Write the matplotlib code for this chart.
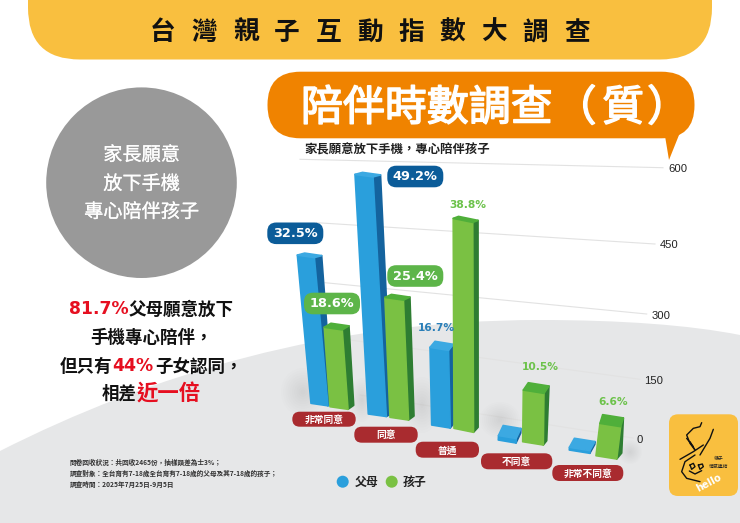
import matplotlib
matplotlib.use('Agg')
import matplotlib.pyplot as plt
import matplotlib.patheffects as pe
from matplotlib.patches import FancyBboxPatch, Circle, Ellipse, PathPatch
from matplotlib.path import Path

plt.rcParams['font.family'] = ['Noto Sans CJK TC', 'DejaVu Sans']

# data
categories = ['非常同意', '同意', '普通', '不同意', '非常不同意']
parent_pct = [32.5, 49.2, 16.7, 1.0, 0.6]
child_pct = [18.6, 25.4, 38.8, 10.5, 6.6]
axis_ticks = ['0', '150', '300', '450', '600']
series_names = ['父母', '孩子']

main_title = '台灣親子互動指數大調查'
sub_title = '陪伴時數調查'
question = '家長願意放下手機，專心陪伴孩子'
circle_lines = ['家長願意', '放下手機', '專心陪伴孩子']
foot_lines = ['問卷回收狀況：共回收2465份，抽樣誤差為士3%；',
              '調查對象：全台育有7-18歲全台育有7-18歲的父母及其7-18歲的孩子；',
              '調查時間：2025年7月25日-9月5日']

# perspective of each bar, in pixels: base x, base y, width x, width y,
# rise x, rise y per percent, top depth x, y, bottom depth x, y
parent_geom = [(311, 403.3, 17, 2.5, -.42, -4.56, 7.3, -2, 4.5, -3),
               (368.3, 414, 18, 2.5, -.27, -4.87, 7.5, -2, 5.5, -3),
               (431.7, 425, 18.5, 3, -.10, -4.65, 5, -6, 4, -5),
               (498.3, 440, 17.7, 3, .2, -4.5, 4.7, -10, 4.7, -10),
               (569.3, 450, 20.5, 3.3, .2, -4.5, 5, -9, 5, -9)]
child_geom = [(330, 406.7, 18, 2.6, -.31, -4.27, 6.7, -4, 5.7, -4),
              (390, 417.3, 18.5, 2.7, -.2, -4.72, 6.5, -3, 5.5, -4),
              (454, 428.3, 19.5, 4, -.02, -5.41, 5.3, -2, 4.6, -5),
              (522.7, 441.7, 20.6, 3.3, .06, -4.92, 5, -7.3, 3.4, -4.3),
              (596, 455.7, 20.7, 3.3, .6, -4.9, 2.7, -8.7, 5, -6)]

YELLOW = '#F9BF3F'
ORANGE = '#F08300'
RED = '#E60F20'
BLUE = ('#2A9FDC', '#14639E', '#3CA9E2')
GREEN = ('#7AC143', '#2E7D32', '#4FAF3A')

fig = plt.figure(figsize=(7.4, 5.23), dpi=100)
ax = fig.add_axes([0, 0, 1, 1])
ax.set_xlim(0, 740)
ax.set_ylim(523, 0)
ax.axis('off')


def rounded(x0, y0, x1, y1, r, color, z=5):
    box = FancyBboxPatch((x0 + r, y0 + r), x1 - x0 - 2 * r, y1 - y0 - 2 * r,
                         boxstyle='round,pad=%f,rounding_size=%f' % (r, r),
                         fc=color, ec='none', zorder=z)
    ax.add_patch(box)


def draw_bar(value, geom, colors, z):
    bx, by, wx, wy, rx, ry, tdx, tdy, bdx, bdy = geom
    tl = (bx + rx * value, by + ry * value)
    tr = (tl[0] + wx, tl[1] + wy)
    br = (bx + wx, by + wy)
    side = [tr, (tr[0] + tdx, tr[1] + tdy), (br[0] + bdx, br[1] + bdy), br]
    top = [tl, tr, (tr[0] + tdx, tr[1] + tdy), (tl[0] + tdx, tl[1] + tdy)]
    front = [tl, tr, br, (bx, by)]
    for pts, c in ((side, colors[1]), (front, colors[0]), (top, colors[2])):
        ax.fill([p[0] for p in pts], [p[1] for p in pts], fc=c, ec=c, lw=1.2,
                joinstyle='round', zorder=z)


def soft_shadow(cx, cy, rx, ry):
    for k in range(10):
        f = 1 - k / 10
        ax.add_patch(Ellipse((cx, cy), 2 * rx * f, 2 * ry * f, fc='#777777',
                             ec='none', alpha=.017, zorder=1.5))


# background shapes
floor = Path([(0, 451), (150, 375), (330, 320), (540, 320), (620, 320), (690, 325),
              (740, 335), (740, 523), (0, 523), (0, 451)],
             [Path.MOVETO, Path.CURVE4, Path.CURVE4, Path.CURVE4, Path.CURVE4, Path.CURVE4,
              Path.CURVE4, Path.LINETO, Path.LINETO, Path.CLOSEPOLY])
ax.add_patch(PathPatch(floor, fc='#E6E7E8', ec='none', zorder=1))
rounded(28, -70, 712, 59.5, 52, YELLOW, 2)

# speech bubble
ax.fill([664, 669, 681, 688], [130, 160, 130, 118], fc=ORANGE, ec='none', zorder=2)
rounded(267.5, 71.7, 694.5, 138.3, 33, ORANGE, 2)

for i, ch in enumerate(main_title):
    ax.text(163 + 41.4 * i, 32.5, ch, fontsize=18.5, fontweight='bold', color='#111111',
            ha='center', va='center', zorder=6)
# regular weight with a thin stroke, the reference sits between regular and bold
thick = [pe.withStroke(linewidth=1.1, foreground='white')]
ax.text(301, 109, sub_title, fontsize=30.2, color='white', ha='left', va='center',
        path_effects=thick, zorder=6)
for ch, x in zip('（質）', (575.5, 623, 668)):
    ax.text(x, 109, ch, fontsize=30.2, color='white', ha='center', va='center',
            path_effects=thick, zorder=6)
ax.text(304, 150, question, fontsize=8.9, fontweight='bold', color='#222222',
        ha='left', va='center', zorder=6)

# left circle
ax.add_patch(Circle((141.5, 182.7), 95.3, fc='#999999', ec='none', zorder=2))
for line, y in zip(circle_lines, (155, 184, 212)):
    ax.text(141.5, y, line, fontsize=13.8, color='white', ha='center', va='center',
            path_effects=[pe.withStroke(linewidth=.15, foreground='white')], zorder=6)


def plain(x, y, s, size=12.6, color='#111111', family=None):
    ax.text(x, y, s, fontsize=size, fontweight='bold', color=color, ha='left', va='center',
            family=family or ['Noto Sans CJK TC', 'DejaVu Sans'], zorder=6)


plain(69, 309, '81.7%', 12.4, RED, 'DejaVu Sans')
plain(129, 310, '父母願意放下')
plain(90, 338, '手機專心陪伴，')
plain(60, 367, '但只有')
plain(112, 366, '44%', 12.4, RED, 'DejaVu Sans')
plain(155, 367, '子女認同，')
plain(102, 394, '相差')
plain(137, 394, '近一倍', 15.4, RED)

for line, y in zip(foot_lines, (462.5, 473, 484)):
    ax.text(70, y, line, fontsize=4.8, fontweight='bold', color='#333333',
            ha='left', va='center', zorder=6)

# grid lines, perspective so each has its own ends
grid_ends = [((360, 395), (633, 438)), ((350, 340), (640, 379.3)), ((325, 282.7), (646.7, 314)),
             ((316.7, 222.7), (655, 244)), ((300, 159.3), (663, 167.7))]
tick_pos = [(640, 440), (654, 380.5), (661, 316), (669, 245.5), (678, 168.5)]
for ends, pos, lab in zip(grid_ends, tick_pos, axis_ticks):
    ax.plot([ends[0][0], ends[1][0]], [ends[0][1], ends[1][1]], color='#E2E2E2', lw=.8, zorder=1.2)
    ax.text(pos[0], pos[1], lab, fontsize=8.1, color='#222222', ha='center', va='center',
            family='Liberation Sans', zorder=6)

for sx, sy, rx, ry in ((303, 392, 22, 24), (422, 405, 18, 28), (500, 420, 20, 18),
                       (362, 400, 12, 22), (630, 452, 12, 12)):
    soft_shadow(sx, sy, rx, ry)

# bars
for i in range(len(categories)):
    draw_bar(parent_pct[i], parent_geom[i], BLUE, 3 + i * .1)
    draw_bar(child_pct[i], child_geom[i], GREEN, 3.05 + i * .1)

# percent labels, pills for the bigger answers
pill_pos = {(0, 0): (295.3, 233.3), (0, 1): (415.3, 176.5), (1, 0): (332, 303.5), (1, 1): (415.3, 276)}
text_pos = {(0, 2): (436.7, 328), (1, 2): (468.3, 205.3), (1, 3): (540.7, 367), (1, 4): (612.7, 401.7)}
for s, values in enumerate((parent_pct, child_pct)):
    for i, v in enumerate(values):
        if (s, i) in pill_pos:
            cx, cy = pill_pos[(s, i)]
            rounded(cx - 28, cy - 10.8, cx + 28, cy + 10.8, 9, '#0B5C99' if s == 0 else '#5DB549', 5)
            ax.text(cx, cy, '%.1f%%' % v, fontsize=9.3, fontweight='bold', color='white',
                    family='DejaVu Sans', ha='center', va='center', zorder=6)
        elif (s, i) in text_pos:
            cx, cy = text_pos[(s, i)]
            ax.text(cx, cy, '%.1f%%' % v, fontsize=7.7, fontweight='bold',
                    color='#2A7FB8' if s == 0 else '#6CC24A',
                    family='DejaVu Sans', ha='center', va='center', zorder=6)

# category pills
pill_boxes = [(292.3, 411.7, 355.7, 426.7), (354.3, 426.7, 417.7, 442.7), (415.7, 441.7, 479, 457.7),
              (481, 453.3, 552.3, 469.3), (552.3, 465, 623.3, 481)]
for cat, box in zip(categories, pill_boxes):
    rounded(box[0], box[1], box[2], box[3], 7.5, '#A92B2F', 5)
    ax.text((box[0] + box[2]) / 2, (box[1] + box[3]) / 2 + .7, cat, fontsize=7, fontweight='bold',
            color='white', ha='center', va='center', zorder=6)

# legend
ax.add_patch(Circle((342.7, 481.7), 6, fc='#2A9FDC', ec='none', zorder=5))
ax.add_patch(Circle((391.7, 481.7), 6, fc='#7AC143', ec='none', zorder=5))
ax.text(355, 482.5, series_names[0], fontsize=8.6, fontweight='bold', color='#222222',
        ha='left', va='center', zorder=6)
ax.text(403, 482.5, series_names[1], fontsize=8.6, fontweight='bold', color='#222222',
        ha='left', va='center', zorder=6)

# logo
rounded(669, 414.3, 738, 496, 9, YELLOW, 2)


def doodle(pts, lw=1):
    ax.plot([650 + p[0] / 3 for p in pts], [400 + p[1] / 3 for p in pts], color='#111111',
            lw=lw, solid_capstyle='round', zorder=6)


doodle([(155, 68), (150, 80), (130, 85), (110, 105), (120, 130), (135, 150)])
doodle([(110, 115), (130, 140)])
doodle([(120, 125), (135, 150)])
doodle([(190, 88), (180, 115), (165, 140), (150, 165)])
doodle([(90, 178), (130, 155), (160, 135)])
doodle([(135, 165), (105, 185), (95, 215), (110, 235), (150, 245)])
doodle([(120, 195), (130, 190), (135, 200), (125, 208), (120, 195)])
doodle([(145, 195), (157, 192), (160, 200), (150, 208), (145, 195)])
doodle([(118, 213), (135, 222), (155, 212)])
ax.text(650 + 206 / 3, 400 + 176 / 3, '親子', fontsize=3.5, color='#222222', ha='center',
        va='center', zorder=6)
ax.text(650 + 206 / 3, 400 + 199 / 3, '情感連結', fontsize=3.5, color='#222222', ha='center',
        va='center', zorder=6)
ax.text(650 + 176 / 3, 400 + 250 / 3, 'hello', fontsize=7, fontweight='bold', color='white',
        family='DejaVu Sans', rotation=28, ha='center', va='center', zorder=6)

fig.savefig('out.png', dpi=100)
